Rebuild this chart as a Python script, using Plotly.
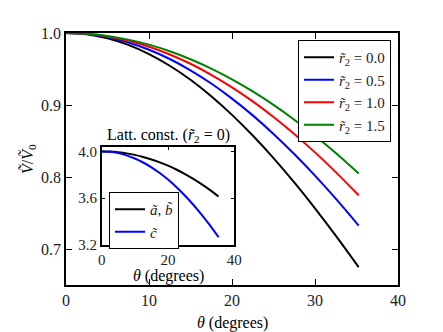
import plotly.graph_objects as go

# angle samples (degrees)
theta = [0, 2.5, 5, 7.5, 10, 12.5, 15, 17.5, 20, 22.5, 25, 27.5, 30, 32.5, 35.26]

# V/V0 for each r2 value
v_r00 = [1.0, 0.9982, 0.9926, 0.9835, 0.9707, 0.9545, 0.9350, 0.9122, 0.8863,
         0.8576, 0.8263, 0.7925, 0.7565, 0.7186, 0.6749]
v_r05 = [1.0, 0.9985, 0.9942, 0.9869, 0.9768, 0.9639, 0.9482, 0.9298, 0.9089,
         0.8856, 0.8598, 0.8319, 0.8019, 0.7699, 0.7326]
v_r10 = [1.0, 0.9988, 0.9952, 0.9892, 0.9809, 0.9702, 0.9573, 0.9420, 0.9246,
         0.9051, 0.8834, 0.8598, 0.8342, 0.8068, 0.7746]
v_r15 = [1.0, 0.9990, 0.9959, 0.9908, 0.9838, 0.9747, 0.9636, 0.9506, 0.9356,
         0.9188, 0.9001, 0.8796, 0.8573, 0.8334, 0.8050]

# lattice constants for r2 = 0 (inset)
latt_ab = [4.000, 3.998, 3.992, 3.983, 3.970, 3.952, 3.931, 3.906, 3.878,
           3.845, 3.808, 3.767, 3.722, 3.673, 3.614]
latt_c = [4.000, 3.996, 3.985, 3.966, 3.939, 3.905, 3.864, 3.815, 3.759,
          3.696, 3.625, 3.548, 3.464, 3.374, 3.266]

series = [("0.0", v_r00, "black"), ("0.5", v_r05, "blue"),
          ("1.0", v_r10, "red"), ("1.5", v_r15, "green")]

FONT = "Liberation Serif"
OFF = 8  # page body margin
W, H = 435, 324
L, R, T, B = 58, 45, 25, 47

fig = go.Figure()

for lab, vals, col in series:
    fig.add_trace(go.Scatter(x=theta, y=vals, mode="lines", line_shape="spline",
                             line=dict(color=col, width=2),
                             name=f"<i>r\u0303</i><sub>2</sub> = {lab}",
                             legend="legend"))

fig.add_trace(go.Scatter(x=theta, y=latt_ab, mode="lines", line_shape="spline",
                         line=dict(color="black", width=2),
                         name="<i>ã</i>, <i>b\u0303</i>",
                         xaxis="x2", yaxis="y2", legend="legend2"))
fig.add_trace(go.Scatter(x=theta, y=latt_c, mode="lines", line_shape="spline",
                         line=dict(color="blue", width=2),
                         name="<i>c\u0303</i>",
                         xaxis="x2", yaxis="y2", legend="legend2"))

pw, ph = W - L - R, H - T - B
# convert page pixel positions to paper coordinates
def px(x):
    return (x - OFF - L) / pw
def py(y):
    return (H - B - (y - OFF)) / ph

axis_common = dict(showline=True, linecolor="black", linewidth=1.5, mirror="ticks",
                   ticks="inside", tickcolor="black", showgrid=False, zeroline=False)

fig.update_layout(
    width=W, height=H,
    margin=dict(l=L, r=R, t=T, b=B),
    paper_bgcolor="white", plot_bgcolor="white",
    font=dict(family=FONT, color="black"),
    xaxis=dict(range=[0, 40], tickvals=[0, 10, 20, 30, 40], ticklen=6,
               tickfont=dict(family=FONT, size=16, color="#222"), **axis_common),
    yaxis=dict(range=[0.65, 1.0], tickvals=[0.7, 0.8, 0.9, 1.0], tickformat=".1f",
               ticklen=6, tickfont=dict(family=FONT, size=16, color="#222"), **axis_common),
    xaxis2=dict(domain=[px(101.7), px(234.3)], anchor="y2", range=[0, 40],
                tickvals=[0, 20, 40], ticklen=4,
                tickfont=dict(family=FONT, size=15, color="#222"), **axis_common),
    yaxis2=dict(domain=[py(245), py(146.7)], anchor="x2", range=[3.2, 4.04],
                tickvals=[3.2, 3.6, 4.0], tickformat=".1f", ticklen=4,
                tickfont=dict(family=FONT, size=15, color="#222"), **axis_common),
    legend=dict(x=px(391), y=py(40), xanchor="right", yanchor="top",
                bgcolor="white", bordercolor="black", borderwidth=1,
                font=dict(family=FONT, size=15, color="#222"), tracegroupgap=0),
    legend2=dict(x=px(109), y=py(192), xanchor="left", yanchor="top",
                 bgcolor="white", bordercolor="black", borderwidth=1,
                 font=dict(family=FONT, size=15, color="#222")),
    showlegend=True,
)

ann_font = dict(family=FONT, size=16, color="black")
def label(x, y, text, angle=0):
    fig.add_annotation(x=px(x), y=py(y), xref="paper", yref="paper", showarrow=False,
                       xanchor="center", yanchor="middle", textangle=angle,
                       text=text, font=ann_font)

label(232, 323, "<i>θ</i> (degrees)")
label(28, 159, "<i>Ṽ</i>/<i>Ṽ</i><sub>0</sub>", -90)
label(168, 276, "<i>θ</i> (degrees)")
label(168, 135, "Latt. const. (<i>r\u0303</i><sub>2</sub> = 0)")

fig.write_html("out.html")
